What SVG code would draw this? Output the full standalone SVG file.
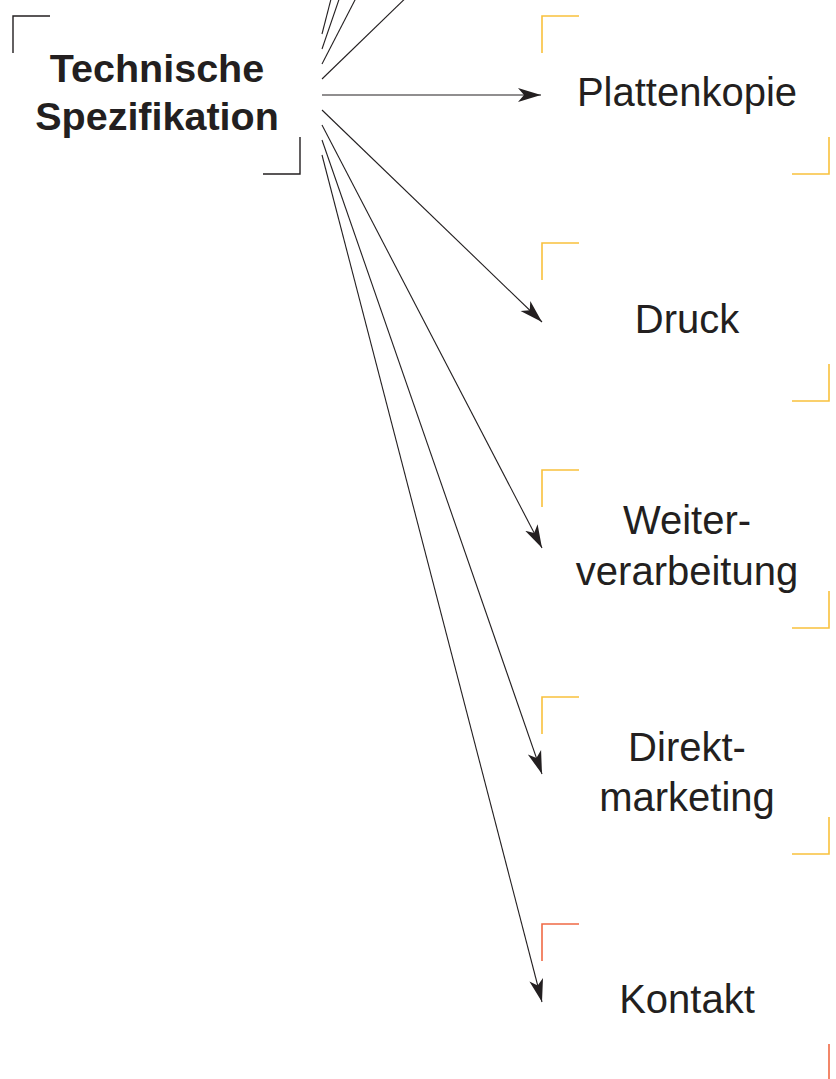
<svg xmlns="http://www.w3.org/2000/svg" width="836" height="1079" viewBox="0 0 836 1079">
<style>
.bg{fill:#ffffff}
.src{fill:none;stroke:#231f20;stroke-width:1.4}
.y{fill:none;stroke:#f9c13c;stroke-width:1.6}
.r{fill:none;stroke:#f06a45;stroke-width:1.6}
.t{font-family:"Liberation Sans",Arial,Helvetica,sans-serif;font-size:40px;fill:#231f20;text-anchor:middle}
.tb{font-family:"Liberation Sans",Arial,Helvetica,sans-serif;font-size:39.5px;font-weight:bold;fill:#231f20;text-anchor:middle}
.c{fill:none;stroke:#231f20;stroke-width:1.1}
</style>
<defs>
<marker id="ah" markerUnits="userSpaceOnUse" markerWidth="24" markerHeight="16" viewBox="0 0 24 16" refX="23" refY="8" orient="auto">
<path d="M0,1 L23,8 L0,15 L6,8 Z" fill="#231f20"/>
</marker>
</defs>
<rect class="bg" x="0" y="0" width="836" height="1079"/>
<g id="connectors">
<line class="c" x1="322" y1="34" x2="540" y2="-813" marker-end="url(#ah)"/>
<line class="c" x1="322" y1="49" x2="540" y2="-586" marker-end="url(#ah)"/>
<line class="c" x1="322" y1="64" x2="540" y2="-359" marker-end="url(#ah)"/>
<line class="c" x1="322" y1="79" x2="540" y2="-132" marker-end="url(#ah)"/>
<line class="c" x1="322" y1="95" x2="541" y2="95" marker-end="url(#ah)"/>
<line class="c" x1="322" y1="110" x2="542" y2="322" marker-end="url(#ah)"/>
<line class="c" x1="322" y1="125" x2="542" y2="548" marker-end="url(#ah)"/>
<line class="c" x1="322" y1="140" x2="542" y2="774" marker-end="url(#ah)"/>
<line class="c" x1="322" y1="155" x2="542" y2="1002" marker-end="url(#ah)"/>
</g>
<g id="node-technische-spezifikation">
<path class="src" d="M13,53 V16 H50"/>
<path class="src" d="M263,174 H300 V137"/>
<text class="tb" x="157" y="82">Technische</text>
<text class="tb" x="157" y="130">Spezifikation</text>
</g>
<g id="node-plattenkopie">
<path class="y" d="M542,53 V16 H579"/>
<path class="y" d="M792,174 H829 V137"/>
<text class="t" x="687" y="106">Plattenkopie</text>
</g>
<g id="node-druck">
<path class="y" d="M542,280 V243 H579"/>
<path class="y" d="M792,401 H829 V364"/>
<text class="t" x="687" y="333">Druck</text>
</g>
<g id="node-weiterverarbeitung">
<path class="y" d="M542,507 V470 H579"/>
<path class="y" d="M792,628 H829 V591"/>
<text class="t" x="687" y="534">Weiter-</text>
<text class="t" x="687" y="585">verarbeitung</text>
</g>
<g id="node-direktmarketing">
<path class="y" d="M542,734 V697 H579"/>
<path class="y" d="M792,854 H829 V817"/>
<text class="t" x="687" y="761">Direkt-</text>
<text class="t" x="687" y="811">marketing</text>
</g>
<g id="node-kontakt">
<path class="r" d="M542,961 V924 H579"/>
<path class="r" d="M792,1082 H829 V1044"/>
<text class="t" x="687" y="1013">Kontakt</text>
</g>
</svg>
